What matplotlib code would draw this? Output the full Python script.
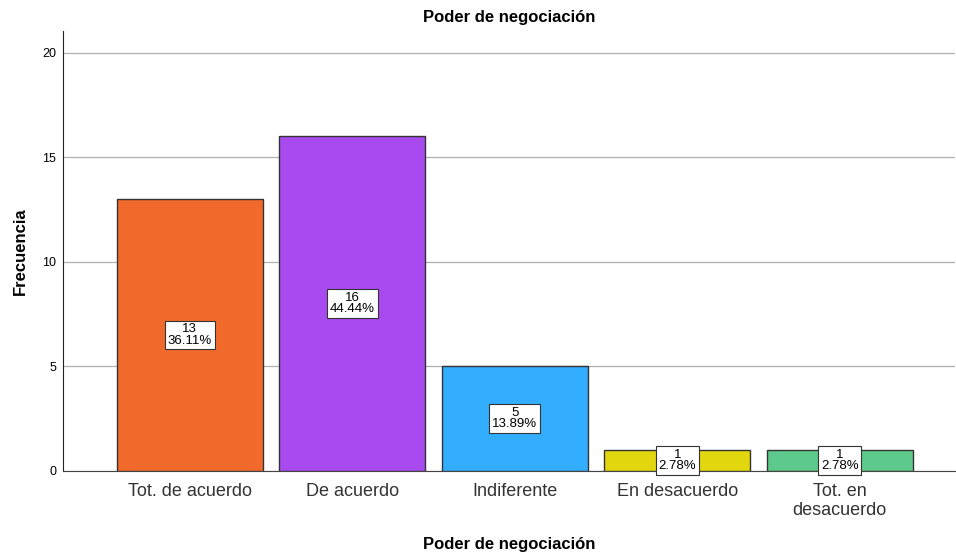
import matplotlib.pyplot as plt
import numpy as np

categories = ["Tot. de acuerdo", "De acuerdo", "Indiferente", "En desacuerdo", "Tot. en\ndesacuerdo"]
counts = [13, 16, 5, 1, 1]
percents = ["36.11%", "44.44%", "13.89%", "2.78%", "2.78%"]
colors = ["#F26A2B", "#A94AF0", "#33AEFF", "#E2D70F", "#5DCA8B"]

plt.rcParams["font.family"] = ["Liberation Sans", "DejaVu Sans"]

fig = plt.figure(figsize=(9.56, 5.6), dpi=100)
ax = fig.add_axes([0.066, 0.159, 0.933, 0.786])

x = np.arange(len(categories))
ax.bar(x, counts, width=0.9, color=colors, edgecolor="#333333", linewidth=1.0, zorder=3)

for xi, c, p in zip(x, counts, percents):
    ax.text(xi, c / 2, f"{c}\n{p}", ha="center", va="center", fontsize=9.5,
            linespacing=0.9, zorder=4,
            bbox=dict(boxstyle="square,pad=0.22", facecolor="white", edgecolor="#333333", linewidth=0.8))

ax.set_xlim(-0.78, 4.71)
ax.set_ylim(0, 21.05)
ax.set_yticks([0, 5, 10, 15, 20])
ax.yaxis.grid(True, color="#b0b0b0", linewidth=0.9, zorder=0)
ax.set_axisbelow(True)
ax.tick_params(axis="y", length=0, labelsize=9, pad=5)
ax.tick_params(axis="x", length=0, labelsize=13, pad=9, labelcolor="#333333")
ax.set_xticks(x)
ax.set_xticklabels(categories, linespacing=1.15)

for s in ["top", "right"]:
    ax.spines[s].set_visible(False)
ax.spines["left"].set_color("#222222")
ax.spines["bottom"].set_color("#444444")

ax.set_title("Poder de negociación", fontsize=12, fontweight="bold", pad=6)
ax.set_ylabel("Frecuencia", fontsize=12, fontweight="bold", labelpad=10)
ax.set_xlabel("Poder de negociación", fontsize=12, fontweight="bold", labelpad=13)

fig.savefig("out.png", dpi=100)
